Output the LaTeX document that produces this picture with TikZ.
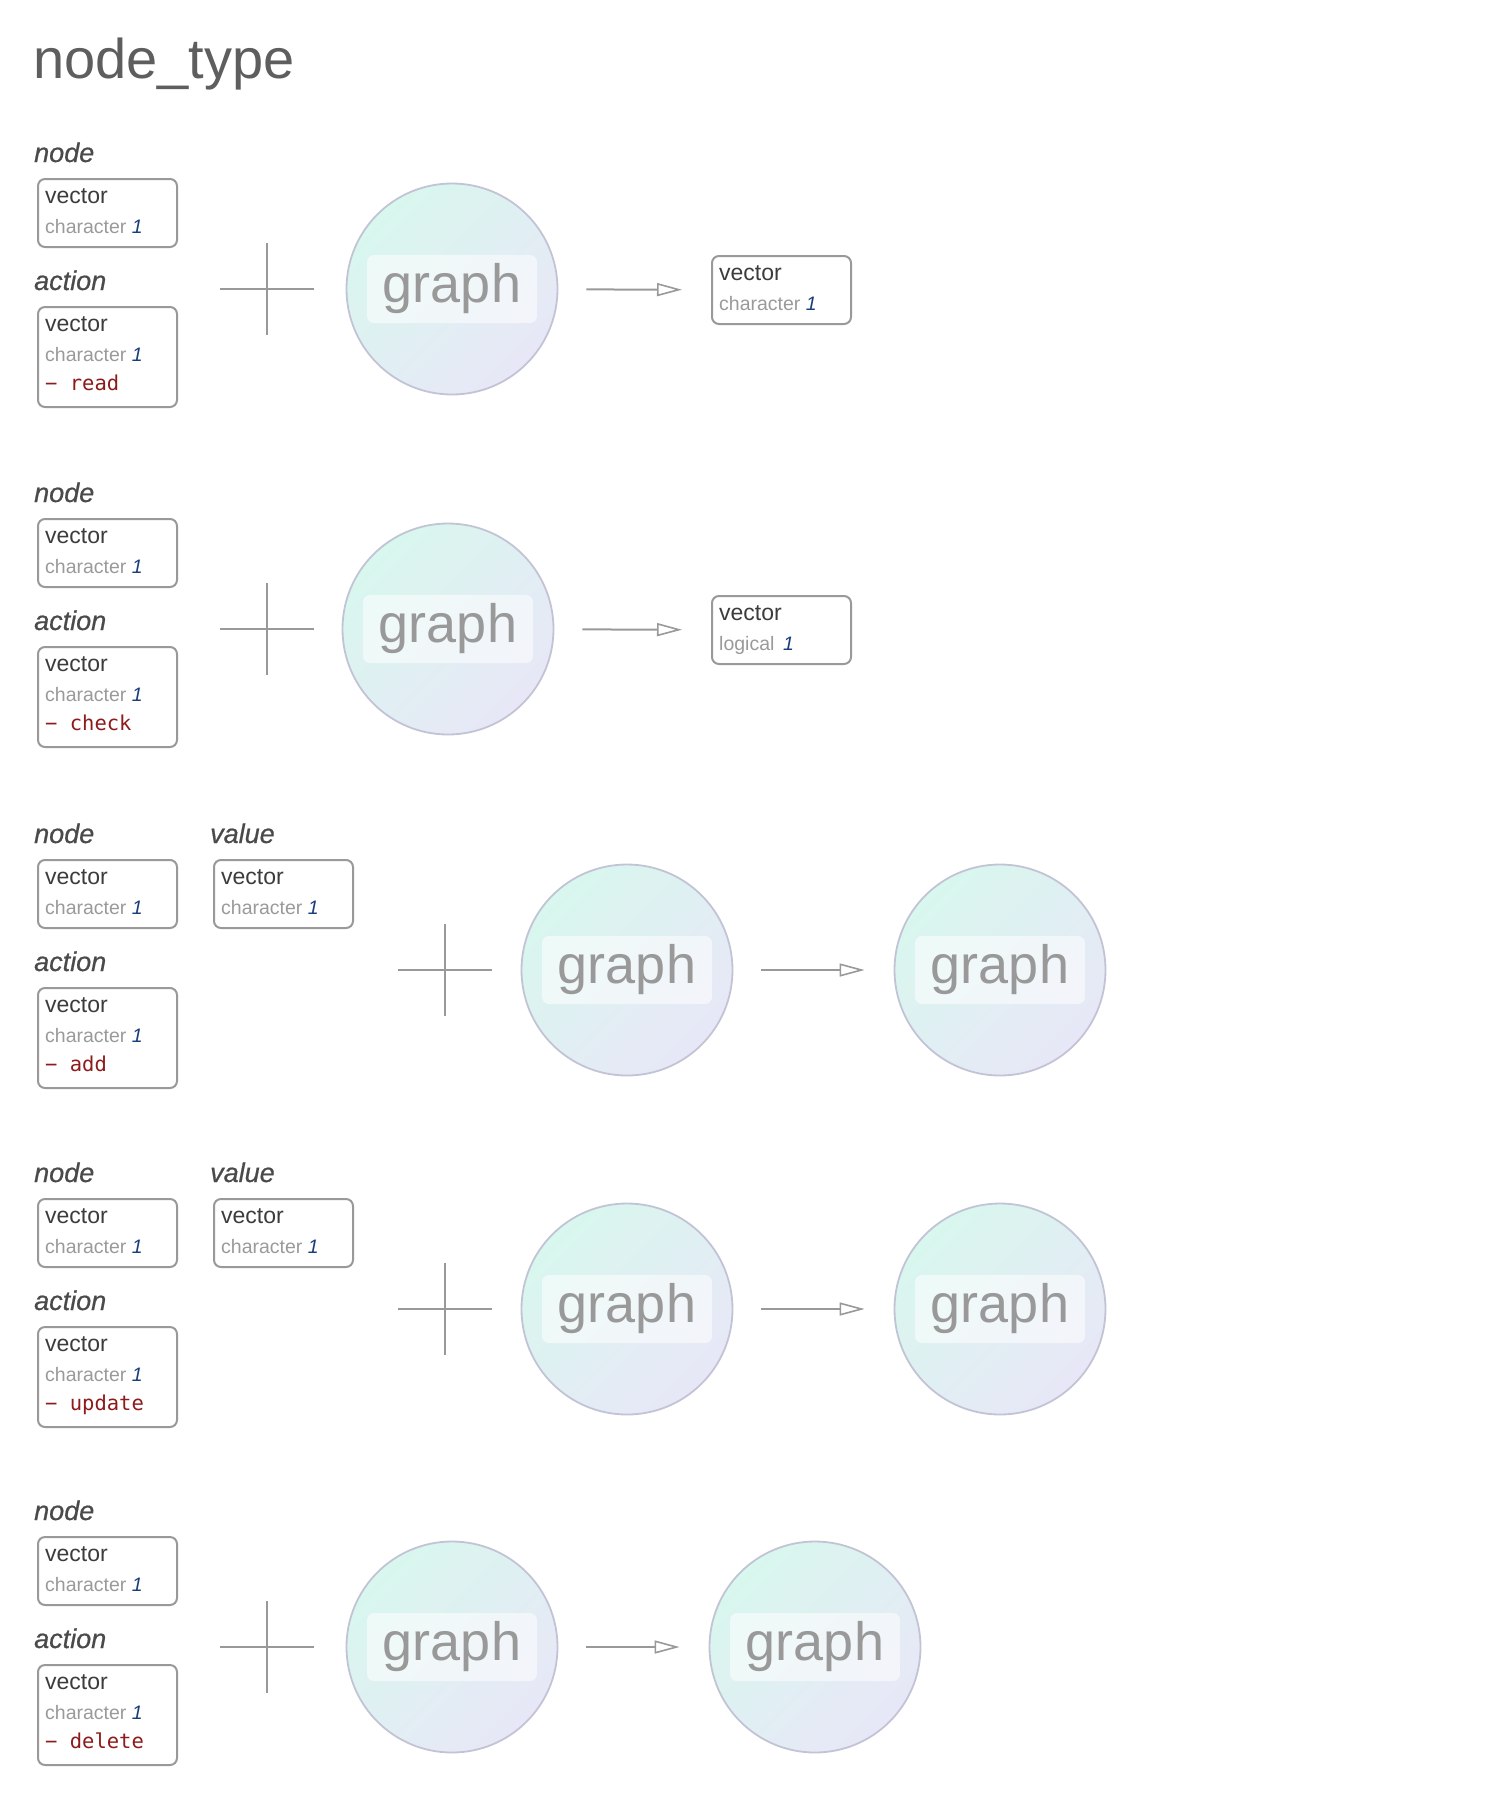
\documentclass[tikz,border=0pt]{standalone}
\usepackage{fontspec}
\setmainfont{Liberation Sans}
\setmonofont{DejaVu Sans Mono}
\usetikzlibrary{arrows.meta,calc}
\definecolor{titlecol}{HTML}{5E5E5E}
\definecolor{labcol}{HTML}{4A4A4A}
\definecolor{veccol}{HTML}{3C3C3C}
\definecolor{chrcol}{HTML}{9A9A9A}
\definecolor{numcol}{HTML}{1A3D7C}
\definecolor{monocol}{HTML}{8E1B1B}
\definecolor{boxcol}{HTML}{999999}
\definecolor{linecol}{HTML}{999999}
\definecolor{circcol}{HTML}{C2C4D6}
\definecolor{mintc}{HTML}{D8F7EE}
\definecolor{lavc}{HTML}{E8E7F7}
\definecolor{graphtxt}{HTML}{999999}
\tikzset{
  tbox/.style={draw=boxcol, line width=2pt, rounded corners=7pt, fill=white,
    minimum width=139pt, inner sep=0pt, anchor=north west},
  vtxt/.style={inner sep=0pt, anchor=base west, text=veccol, font=\fontsize{23}{26}\selectfont},
  ctxt/.style={inner sep=0pt, anchor=base west, text=chrcol, font=\fontsize{19.5}{22}\selectfont},
  mtxt/.style={inner sep=0pt, anchor=base west, text=monocol, font=\fontsize{20.5}{23}\selectfont\ttfamily},
  lab/.style={inner sep=0pt, anchor=base west, text=labcol,
    font=\fontsize{27}{30}\selectfont\itshape\addfontfeature{FakeBold=0.6}},
  titletxt/.style={inner sep=0pt, anchor=base west, text=titlecol, font=\fontsize{56}{60}\selectfont},
  gcirc/.style={circle, draw=circcol, line width=1.8pt, minimum size=211pt, inner sep=0pt,
    top color=mintc, bottom color=lavc, shading angle=45},
  glab/.style={rectangle, rounded corners=7pt, fill=white, fill opacity=0.55, text opacity=1,
    text=graphtxt, minimum width=170pt, minimum height=68pt, inner sep=0pt,
    font=\fontsize{54}{60}\selectfont},
  plusl/.style={draw=linecol, line width=2pt},
  arr/.style={draw=linecol, line width=2pt,
    -{Triangle[open, length=25pt, width=13pt, line width=1.6pt]},
    shorten <=28pt, shorten >=29pt}
}
\newcommand{\tybox}[5]{% name, x, y(top), type word, height
  \node[tbox, minimum height=#5pt] (#1) at (#2,#3) {};
  \node[vtxt] (#1v) at ($(#1.north west)+(8,25)$) {vector};
  \node[ctxt] (#1c) at ($(#1.north west)+(8,55)$) {#4 \textcolor{numcol}{\itshape 1}};
}
\newcommand{\actbox}[4]{% name, x, y(top), action word
  \tybox{#1}{#2}{#3}{character}{100}
  \node[mtxt] (#1m) at ($(#1.north west)+(8,84)$) {− #4};
}
\newcommand{\plusat}[3]{%
  \coordinate (#1) at (#2,#3);
  \draw[plusl] ($(#1)+(-47,0)$) -- ($(#1)+(47,0)$);
  \draw[plusl] ($(#1)+(0,-46)$) -- ($(#1)+(0,46)$);
}
\newcommand{\graphat}[3]{%
  \node[gcirc] (#1) at (#2,#3) {};
  \node[glab] (#1l) at (#1) {graph};
}
\begin{document}
\begin{tikzpicture}[x=1pt, y=-1pt]
\useasboundingbox (0,0) rectangle (1510,1800);
\node[titletxt] (title) at (33,78) {node\_type};

% ---- section 1: read
\node[lab] (nl1) at (34,162) {node};
\tybox{nb1}{37}{178}{character}{68}
\node[lab] (al1) at (34,290) {action};
\actbox{ab1}{37}{306}{read}
\plusat{p1}{267}{289}
\graphat{g1}{452}{289}
\tybox{r1}{711}{255}{character}{68}
\draw[arr] (g1) -- (r1);

% ---- section 2: check
\node[lab] (nl2) at (34,502) {node};
\tybox{nb2}{37}{518}{character}{68}
\node[lab] (al2) at (34,630) {action};
\actbox{ab2}{37}{646}{check}
\plusat{p2}{267}{629}
\graphat{g2}{448}{629}
\tybox{r2}{711}{595}{logical\,}{68}
\draw[arr] (g2) -- (r2);

% ---- section 3: add
\node[lab] (nl3) at (34,843) {node};
\tybox{nb3}{37}{859}{character}{68}
\node[lab] (vl3) at (210,843) {value};
\tybox{vb3}{213}{859}{character}{68}
\node[lab] (al3) at (34,971) {action};
\actbox{ab3}{37}{987}{add}
\plusat{p3}{445}{970}
\graphat{g3a}{627}{970}
\graphat{g3b}{1000}{970}
\draw[arr] (g3a) -- (g3b);

% ---- section 4: update
\node[lab] (nl4) at (34,1182) {node};
\tybox{nb4}{37}{1198}{character}{68}
\node[lab] (vl4) at (210,1182) {value};
\tybox{vb4}{213}{1198}{character}{68}
\node[lab] (al4) at (34,1310) {action};
\actbox{ab4}{37}{1326}{update}
\plusat{p4}{445}{1309}
\graphat{g4a}{627}{1309}
\graphat{g4b}{1000}{1309}
\draw[arr] (g4a) -- (g4b);

% ---- section 5: delete
\node[lab] (nl5) at (34,1520) {node};
\tybox{nb5}{37}{1536}{character}{68}
\node[lab] (al5) at (34,1648) {action};
\actbox{ab5}{37}{1664}{delete}
\plusat{p5}{267}{1647}
\graphat{g5a}{452}{1647}
\graphat{g5b}{815}{1647}
\draw[arr] (g5a) -- (g5b);
\end{tikzpicture}
\end{document}
